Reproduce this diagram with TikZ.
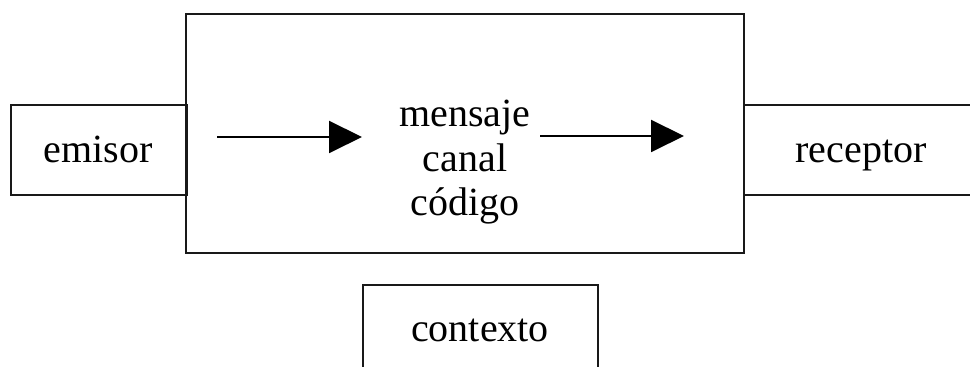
\documentclass[tikz,border=0pt]{standalone}
\usepackage{fontspec}
\setmainfont{Liberation Serif}
\usetikzlibrary{arrows.meta}
\tikzset{
  boxline/.style={draw=black!90, line width=1pt},
  lbl/.style={font=\fontsize{20}{22.5}\selectfont, inner sep=0pt, text=black, anchor=base},
  flow/.style={draw=black, line width=1pt, -{Triangle[length=16.5pt,width=16pt]}}
}
\begin{document}
\begin{tikzpicture}[x=0.5pt,y=-0.5pt]
\useasboundingbox (0,0) rectangle (970,367);
\clip (0,0) rectangle (970,367);
% boxes
\node[boxline, minimum width=176pt*0.5, minimum height=90pt*0.5, inner sep=0pt] (emisorbox) at (99,150) {};
\node[lbl] (emisor) at (98,163) {emisor};
\node[boxline, minimum width=558pt*0.5, minimum height=239pt*0.5, inner sep=0pt] (canalbox) at (465,134) {};
\node[boxline, minimum width=260pt*0.5, minimum height=90pt*0.5, inner sep=0pt] (receptorbox) at (874,150) {};
\node[lbl] (receptor) at (861,163) {receptor};
\node[boxline, minimum width=235pt*0.5, minimum height=120pt*0.5, inner sep=0pt] (contextobox) at (480.5,345) {};
\node[lbl] (contexto) at (480,342) {contexto};
\node[lbl] (mensaje) at (465,127) {mensaje};
\node[lbl] (canal) at (465,172) {canal};
\node[lbl] (codigo) at (465,216) {código};
% arrows
\coordinate (a1s) at (217,137);
\coordinate (a1e) at (362,137);
\coordinate (a2s) at (540,136);
\coordinate (a2e) at (684,136);
\draw[flow] (a1s) -- (a1e);
\draw[flow] (a2s) -- (a2e);
\end{tikzpicture}
\end{document}
